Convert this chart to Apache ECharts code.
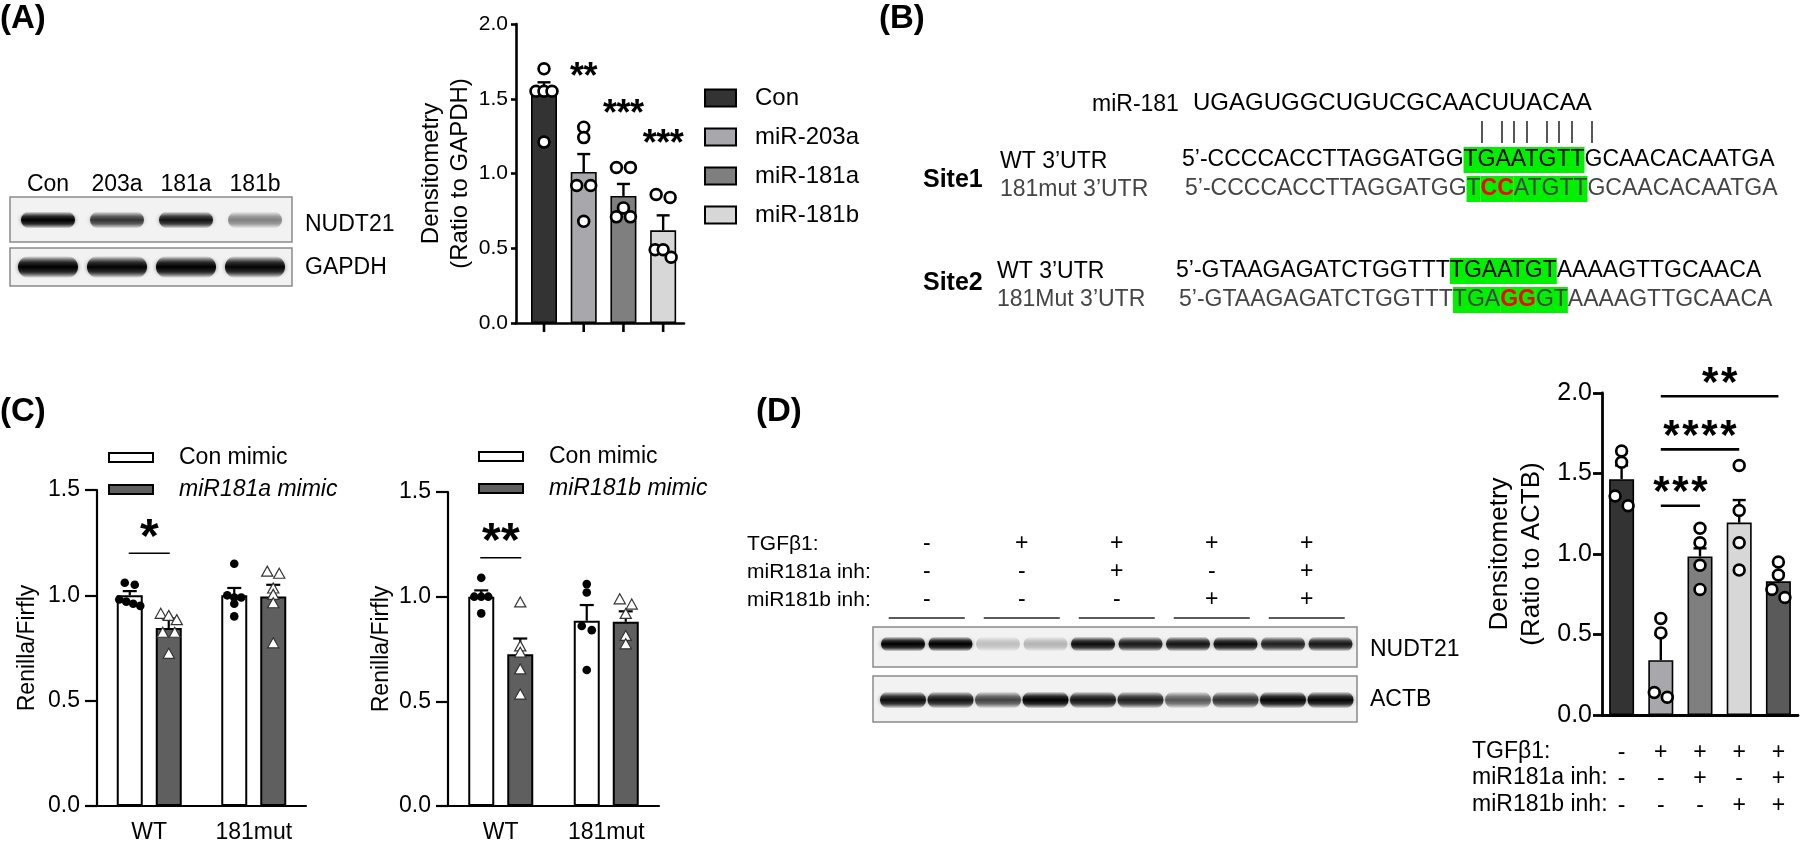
<!DOCTYPE html>
<html><head><meta charset="utf-8">
<script src="https://cdn.jsdelivr.net/npm/echarts@6/dist/echarts.min.js"></script>
<style>html,body{margin:0;padding:0;background:#fff}#c{width:1800px;height:844px}</style>
</head><body><div id="c"></div>
<script>
const FONT = '"Liberation Sans", Arial, Helvetica, sans-serif';

// ---------- Panel A data ----------
const catsA = ['Con', 'miR-203a', 'miR-181a', 'miR-181b'];
const meanA = [1.53, 1.01, 0.85, 0.62];
const semA = [0.08, 0.12, 0.08, 0.10];
const ptsA = [[1.70, 1.55, 1.55, 1.55, 1.21], [1.31, 1.24, 0.92, 0.92, 0.68], [1.04, 1.04, 0.77, 0.71, 0.71], [0.86, 0.84, 0.49, 0.49, 0.44]];
const starIdxA = [1, 2, 3];
const starTxtA = ['**', '***', '***'];
const starValA = [1.69, 1.44, 1.24];
const colorsA = ['#333333', '#a7a7ac', '#7f7f7f', '#d7d7d7'];
const blotLanesA = ['Con', '203a', '181a', '181b'];
const blotA_NUDT21 = [1.0, 0.72, 0.88, 0.42];
const blotA_GAPDH = [1.0, 0.98, 1.0, 0.97];

// ---------- Panel C data ----------
const groupsC = ['WT', '181mut'];
const c1ConMean = [1.00, 1.00], c1ConSem = [0.02, 0.035];
const c1MimMean = [0.845, 0.995], c1MimSem = [0.045, 0.055];
const c1ConPts = [[1.06, 1.05, 0.98, 0.97, 0.96, 0.95], [1.15, 1.00, 0.99, 0.99, 0.96, 0.90]];
const c1MimPts = [[0.91, 0.90, 0.88, 0.82, 0.82, 0.72], [1.11, 1.10, 1.03, 1.00, 0.96, 0.77]];
const c1Sig = {y: 1.20, stars: '*'};
const c2ConMean = [1.00, 0.885], c2ConSem = [0.03, 0.075];
const c2MimMean = [0.725, 0.88], c2MimSem = [0.075, 0.05];
const c2ConPts = [[1.09, 1.00, 1.00, 1.00, 0.92], [1.06, 1.02, 0.86, 0.84, 0.65]];
const c2MimPts = [[0.97, 0.76, 0.73, 0.65, 0.53], [0.985, 0.96, 0.915, 0.81, 0.77]];
const c2Sig = {y: 1.186, stars: '**'};

// ---------- Panel D data ----------
const catsD = ['g1', 'g2', 'g3', 'g4', 'g5'];
const meanD = [1.465, 0.34, 0.985, 1.195, 0.83];
const semD = [0.085, 0.16, 0.05, 0.14, 0.05];
const ptsD = [[1.64, 1.57, 1.36, 1.30], [0.60, 0.51, 0.14, 0.11], [1.16, 1.07, 0.93, 0.78], [1.55, 1.27, 1.07, 0.90], [0.95, 0.87, 0.78, 0.73]];
const colorsD = ['#333333', '#a7a7ac', '#7f7f7f', '#d7d7d7', '#5a5a5a'];
const tgfD = ['-', '+', '+', '+', '+'];
const a181D = ['-', '-', '+', '-', '+'];
const b181D = ['-', '-', '-', '+', '+'];
const sigFromD = [1, 1, 1], sigToD = [2, 3, 4], sigYD = [1.30, 1.65, 1.98], sigStarsD = ['***', '****', '**'];
const blotD_NUDT21 = [1.0, 1.0, 0.2, 0.24, 0.92, 0.85, 0.88, 0.92, 0.82, 0.86];
const blotD_ACTB = [0.92, 0.88, 0.66, 1.0, 0.88, 0.82, 0.58, 0.74, 0.96, 0.96];

// ---------- Panel B text ----------
const mirSeq = 'UGAGUGGCUGUCGCAACUUACAA';
const site1WT = ['5’-CCCCACCTTAGGATGG', 'TGAATGTT', 'GCAACACAATGA'];
const site1Mut = ['5’-CCCCACCTTAGGATGG', 'T', 'CC', 'ATGTT', 'GCAACACAATGA'];
const site2WT = ['5’-GTAAGAGATCTGGTTT', 'TGAATGT', 'AAAAGTTGCAACA'];
const site2Mut = ['5’-GTAAGAGATCTGGTTT', 'TGA', 'GG', 'GT', 'AAAAGTTGCAACA'];

// ---------- helpers ----------
function swarm(ys, th, s2, sn) {
  const idx = ys.map((y, i) => i).sort((a, b) => ys[a] - ys[b]);
  const groups = []; let cur = [idx[0]];
  for (let k = 1; k < idx.length; k++) {
    if (ys[idx[k]] - ys[cur[cur.length - 1]] < th) cur.push(idx[k]); else { groups.push(cur); cur = [idx[k]]; }
  }
  groups.push(cur);
  const offs = [];
  groups.forEach(g => { const n = g.length; const s = n === 2 ? s2 : sn; g.forEach((pi, k) => { offs[pi] = (k - (n - 1) / 2) * s; }); });
  return offs;
}
function sym(kind, x, y) {
  if (kind === 'ring') return {type: 'circle', shape: {cx: x, cy: y, r: 5.4}, style: {fill: '#fff', stroke: '#000', lineWidth: 2.7}};
  if (kind === 'dot') return {type: 'circle', shape: {cx: x, cy: y, r: 4.3}, style: {fill: '#000'}};
  return {type: 'polygon', shape: {points: [[x, y - 6], [x + 5.6, y + 4], [x - 5.6, y + 4]]}, style: {fill: '#fff', stroke: '#333', lineWidth: 1.2}};
}
function errSeries(xi, means, sems, xOff, capW, lw) {
  return {type: 'custom', xAxisIndex: xi, yAxisIndex: xi, z: 3, silent: true, clip: false,
    data: means.map((m, i) => [i, m, sems[i]]), encode: {x: 0, y: 1},
    renderItem: (p, api) => {
      const i = api.value(0), m = api.value(1), s = api.value(2);
      const a = api.coord([i, m]), b = api.coord([i, m + s]); const x = a[0] + xOff;
      return {type: 'group', children: [
        {type: 'line', shape: {x1: x, y1: a[1], x2: x, y2: b[1]}, style: {stroke: '#000', lineWidth: lw}},
        {type: 'line', shape: {x1: x - capW / 2, y1: b[1], x2: x + capW / 2, y2: b[1]}, style: {stroke: '#000', lineWidth: lw}}]};
    }};
}
function ptSeries(xi, pts, xOff, kind, th, s2, sn) {
  return {type: 'custom', xAxisIndex: xi, yAxisIndex: xi, z: 4, silent: true, clip: false,
    data: pts.map((arr, i) => [i, arr[0]]), encode: {x: 0, y: 1},
    renderItem: (p, api) => {
      const i = api.value(0); const vals = pts[p.dataIndex];
      const ys = vals.map(v => api.coord([i, v])[1]); const cx = api.coord([i, 0])[0] + xOff;
      const offs = swarm(ys, th, s2, sn);
      return {type: 'group', children: vals.map((v, k) => sym(kind, cx + offs[k], ys[k]))};
    }};
}
function stars(cx, cy, str, fs, sp) {
  const n = str.length; const out = [];
  for (let k = 0; k < n; k++) out.push({type: 'text', x: cx + (k - (n - 1) / 2) * sp, y: cy + 0.21 * fs,
    style: {text: '*', fill: '#000', font: `bold ${fs}px ${FONT}`, align: 'center', verticalAlign: 'middle', textAlign: 'center', textVerticalAlign: 'middle'}});
  return out;
}
function yAx(grid, max, fs, margin, tlen, lw, name, nameFs, nameLh, nameGap) {
  return {gridIndex: grid, type: 'value', min: 0, max: max, interval: 0.5,
    axisLine: {show: true, onZero: false, lineStyle: {color: '#000', width: lw}},
    axisTick: {show: true, length: tlen, lineStyle: {color: '#000', width: lw}},
    axisLabel: {fontSize: fs, color: '#000', margin: margin, fontFamily: FONT, formatter: v => v.toFixed(1)},
    splitLine: {show: false},
    name: name, nameLocation: 'middle', nameGap: nameGap, nameRotate: 90,
    nameTextStyle: {fontSize: nameFs, lineHeight: nameLh, color: '#000', fontFamily: FONT}};
}

// ---------- graphics (panel labels, blots, sequences) ----------
const gfx = [];
function T(text, x, y, o) {
  o = o || {};
  const st = {text: text, fill: o.fill || '#000', font: `${o.fst || 'normal'} ${o.fw || 'normal'} ${o.fs || 21}px ${FONT}`,
    align: o.align || 'left', textAlign: o.align || 'left', verticalAlign: o.va || 'middle', textVerticalAlign: o.va || 'middle'};
  if (o.rich) { st.rich = o.rich; st.lineHeight = o.lh; }
  gfx.push({type: 'text', x: x, y: y, z: 50, silent: true, style: st});
}
function L(x1, y1, x2, y2, lw, c) {
  gfx.push({type: 'line', z: 50, silent: true, shape: {x1, y1, x2, y2}, style: {stroke: c || '#000', lineWidth: lw}});
}
function bandFill(a) {
  return {type: 'linear', x: 0, y: 0, x2: 0, y2: 1, colorStops: [
    {offset: 0, color: 'rgba(0,0,0,0)'},
    {offset: 0.3, color: `rgba(0,0,0,${(a * 0.75).toFixed(2)})`},
    {offset: 0.5, color: `rgba(0,0,0,${a.toFixed(2)})`},
    {offset: 0.72, color: `rgba(0,0,0,${(a * 0.75).toFixed(2)})`},
    {offset: 1, color: 'rgba(0,0,0,0)'}]};
}
function blot(x, y, w, h, lanes, cy, bw, bh, ints) {
  gfx.push({type: 'rect', z: 40, silent: true, shape: {x, y, width: w, height: h}, style: {fill: '#f2f2f2', stroke: '#8a8a8a', lineWidth: 1.5}});
  lanes.forEach((lx, k) => {
    const a = ints[k];
    gfx.push({type: 'rect', z: 41, silent: true, shape: {x: lx - bw / 2, y: cy - bh / 2, width: bw, height: bh, r: bh / 2},
      style: {fill: bandFill(a), shadowBlur: 4, shadowColor: `rgba(0,0,0,${(a * 0.5).toFixed(2)})`}});
  });
}

// panel labels
T('(A)', 0, 2, {fs: 33, fw: 'bold', va: 'top'});
T('(B)', 879, 2, {fs: 33, fw: 'bold', va: 'top'});
T('(C)', 0, 395, {fs: 33, fw: 'bold', va: 'top'});
T('(D)', 756, 395, {fs: 33, fw: 'bold', va: 'top'});

// Panel A blot
const lanesA = blotLanesA.map((_, k) => 48 + 69 * k);
blotLanesA.forEach((t, k) => T(t, lanesA[k], 185, {fs: 23, align: 'center'}));
blot(10, 197, 282, 45, lanesA, 220, 54, 17, blotA_NUDT21);
blot(10, 248, 282, 38, lanesA, 267, 60, 22, blotA_GAPDH);
T('NUDT21', 305, 225, {fs: 23});
T('GAPDH', 305, 268, {fs: 23});

// Panel B
const seqFs = 23;
function rs(fill, bg, bold) {
  const s = {fill: fill, fontSize: seqFs, fontFamily: FONT, fontWeight: bold ? 'bold' : 'normal', lineHeight: 26, height: 26};
  if (bg) s.backgroundColor = bg;
  return s;
}
const GREEN = '#00f000';
T('miR-181', 1092, 105, {fs: 23});
T(mirSeq, 1193, 103, {fs: 24});
[1482, 1502, 1514, 1527, 1547, 1559, 1572, 1592].forEach(x => L(x, 121, x, 143, 1.4, '#111'));
T('Site1', 923, 180, {fs: 25, fw: 'bold'});
T('Site2', 923, 283, {fs: 25, fw: 'bold'});
T('WT 3’UTR', 1000, 162, {fs: 23});
T('181mut 3’UTR', 1000, 190, {fs: 23, fill: '#444'});
T('WT 3’UTR', 997, 272, {fs: 23});
T('181Mut 3’UTR', 997, 300, {fs: 23, fill: '#444'});
const richB = {n: rs('#000'), g: rs('#000', GREEN), m: rs('#444'), h: rs('#444', GREEN), r: rs('#ff0000', GREEN, true)};
T(`{n|${site1WT[0]}}{g|${site1WT[1]}}{n|${site1WT[2]}}`, 1182, 160, {fs: seqFs, rich: richB, lh: 26});
T(`{m|${site1Mut[0]}}{h|${site1Mut[1]}}{r|${site1Mut[2]}}{h|${site1Mut[3]}}{m|${site1Mut[4]}}`, 1185, 189, {fs: seqFs, rich: richB, lh: 26});
T(`{n|${site2WT[0]}}{g|${site2WT[1]}}{n|${site2WT[2]}}`, 1176, 271, {fs: seqFs, rich: richB, lh: 26});
T(`{m|${site2Mut[0]}}{h|${site2Mut[1]}}{r|${site2Mut[2]}}{h|${site2Mut[3]}}{m|${site2Mut[4]}}`, 1179, 300, {fs: seqFs, rich: richB, lh: 26});

// Panel D blot
const lanesD = blotD_NUDT21.map((_, k) => 903 + 47.5 * k);
const colD = tgfD.map((_, c) => (lanesD[2 * c] + lanesD[2 * c + 1]) / 2);
T('TGFβ1:', 747, 544, {fs: 21});
T('miR181a inh:', 747, 572, {fs: 21});
T('miR181b inh:', 747, 600, {fs: 21});
colD.forEach((cx, c) => {
  T(tgfD[c], cx, 544, {fs: 23, align: 'center'});
  T(a181D[c], cx, 572, {fs: 23, align: 'center'});
  T(b181D[c], cx, 600, {fs: 23, align: 'center'});
  L(cx - 38, 618, cx + 38, 618, 1.6, '#222');
});
blot(873, 627, 484, 40, lanesD, 644, 44, 15, blotD_NUDT21);
blot(873, 676, 484, 46, lanesD, 700, 46, 17, blotD_ACTB);
T('NUDT21', 1370, 650, {fs: 23});
T('ACTB', 1370, 700, {fs: 23});
// D chart row labels
T('TGFβ1:', 1472, 752, {fs: 23});
T('miR181a inh:', 1472, 778, {fs: 23});
T('miR181b inh:', 1472, 805, {fs: 23});

// ---------- series ----------
const series = [];
// A bars
catsA.forEach((c, k) => series.push({type: 'bar', name: c, xAxisIndex: 0, yAxisIndex: 0, barWidth: 26, barGap: '-100%', z: 2,
  data: [[k, meanA[k]]], itemStyle: {color: colorsA[k], borderColor: '#000', borderWidth: 1.6}, silent: true}));
series.push(errSeries(0, meanA, semA, 0, 13, 2.4));
series.push(ptSeries(0, ptsA, 0, 'ring', 8, 14, 8));
series.push({type: 'custom', xAxisIndex: 0, yAxisIndex: 0, z: 5, silent: true, clip: false,
  data: catsA.map((c, i) => [i, 0]), encode: {x: 0, y: 1},
  renderItem: (p, api) => { const c = api.coord([api.value(0), 0]);
    return {type: 'line', shape: {x1: c[0], y1: c[1], x2: c[0], y2: c[1] + 9}, style: {stroke: '#000', lineWidth: 2.6}}; }});
series.push({type: 'custom', xAxisIndex: 0, yAxisIndex: 0, z: 5, silent: true, clip: false,
  data: starIdxA.map((x, k) => [x, starValA[k]]), encode: {x: 0, y: 1},
  renderItem: (p, api) => { const c = api.coord([api.value(0), api.value(1)]);
    return {type: 'group', children: stars(c[0], c[1], starTxtA[p.dataIndex], 36, 13.5)}; }});

// C panels
const OFF = 19.5;
function cPanel(xi, conName, mimName, conMean, conSem, mimMean, mimSem, conPts, mimPts, sig) {
  series.push({type: 'bar', name: conName, xAxisIndex: xi, yAxisIndex: xi, barWidth: 26, barGap: '50%', z: 2, silent: true,
    data: conMean, itemStyle: {color: '#ffffff', borderColor: '#000', borderWidth: 2}});
  series.push({type: 'bar', name: mimName, xAxisIndex: xi, yAxisIndex: xi, barWidth: 26, barGap: '50%', z: 2, silent: true,
    data: mimMean, itemStyle: {color: '#5f5f5f', borderColor: '#000', borderWidth: 2}});
  series.push(errSeries(xi, conMean, conSem, -OFF, 14, 2.2));
  series.push(errSeries(xi, mimMean, mimSem, OFF, 14, 2.2));
  series.push(ptSeries(xi, conPts, -OFF, 'dot', 6, 10, 7));
  series.push(ptSeries(xi, mimPts, OFF, 'tri', 6, 12, 8));
  series.push({type: 'custom', xAxisIndex: xi, yAxisIndex: xi, z: 5, silent: true, clip: false,
    data: [[0, sig.y]], encode: {x: 0, y: 1},
    renderItem: (p, api) => { const c = api.coord([api.value(0), api.value(1)]);
      return {type: 'group', children: [{type: 'line', shape: {x1: c[0] - OFF - 1, y1: c[1], x2: c[0] + OFF + 1, y2: c[1]}, style: {stroke: '#000', lineWidth: 1.6}}]
        .concat(stars(c[0], c[1] - 25, sig.stars, 48, 19))}; }});
}
cPanel(1, 'Con mimic', 'miR181a mimic', c1ConMean, c1ConSem, c1MimMean, c1MimSem, c1ConPts, c1MimPts, c1Sig);
cPanel(2, 'Con mimic ', 'miR181b mimic', c2ConMean, c2ConSem, c2MimMean, c2MimSem, c2ConPts, c2MimPts, c2Sig);

// D
series.push({type: 'bar', name: 'D', xAxisIndex: 3, yAxisIndex: 3, barWidth: 25, z: 2, silent: true,
  data: meanD.map((v, i) => ({value: v, itemStyle: {color: colorsD[i]}})), itemStyle: {borderColor: '#000', borderWidth: 1.6}});
series.push(errSeries(3, meanD, semD, 0, 13, 2.4));
series.push(ptSeries(3, ptsD, 0, 'ring', 10, 13, 8));
series.push({type: 'custom', xAxisIndex: 3, yAxisIndex: 3, z: 5, silent: true, clip: false,
  data: sigFromD.map((f, k) => [f, sigToD[k], sigYD[k]]), encode: {x: [0, 1], y: 2},
  renderItem: (p, api) => {
    const a = api.coord([api.value(0), api.value(2)]), b = api.coord([api.value(1), api.value(2)]);
    return {type: 'group', children: [{type: 'line', shape: {x1: a[0], y1: a[1], x2: b[0], y2: b[1]}, style: {stroke: '#000', lineWidth: 2.6}}]
      .concat(stars((a[0] + b[0]) / 2, a[1] - 21, sigStarsD[p.dataIndex], 42, 19))};
  }});

const catAxis = (gi, data, extra) => Object.assign({gridIndex: gi, type: 'category', data: data,
  axisLine: {lineStyle: {color: '#000', width: 2.2}},
  axisTick: {alignWithLabel: true, length: 9, lineStyle: {color: '#000', width: 2.2}},
  axisLabel: {fontSize: 23, color: '#000', margin: 15, interval: 0, fontFamily: FONT}, splitLine: {show: false}}, extra || {});

const option = {
  animation: false,
  textStyle: {fontFamily: FONT},
  grid: [
    {left: 516, top: 24, width: 168, height: 299},
    {left: 97, top: 490, width: 209, height: 316},
    {left: 448, top: 492, width: 211, height: 315},
    {left: 1602, top: 393, width: 196, height: 322}
  ],
  xAxis: [
    {gridIndex: 0, type: 'value', min: -0.705, max: 3.525, axisLine: {show: true, onZero: false, lineStyle: {color: '#000', width: 2.6}},
      axisTick: {show: false}, axisLabel: {show: false}, splitLine: {show: false}},
    catAxis(1, groupsC),
    catAxis(2, groupsC),
    catAxis(3, catsD, {axisLine: {lineStyle: {color: '#000', width: 2.8}},
      axisTick: {alignWithLabel: true, length: 10, lineStyle: {color: '#000', width: 2.8}},
      axisLabel: {fontSize: 23, color: '#000', margin: 24, lineHeight: 26.5, interval: 0, fontFamily: FONT,
        formatter: (v, i) => [tgfD[i], a181D[i], b181D[i]].join('\n')}})
  ],
  yAxis: [
    yAx(0, 2, 21, 8, 5, 2.6, 'Densitometry\n(Ratio to GAPDH)', 24, 29, 40),
    yAx(1, 1.5, 23, 17, 12, 2.2, 'Renilla/Firfly', 23, 26, 56),
    yAx(2, 1.5, 23, 17, 12, 2.2, 'Renilla/Firfly', 23, 26, 52),
    yAx(3, 2, 25, 10, 9, 2.8, 'Densitometry\n(Ratio to ACTB)', 26, 32, 54)
  ],
  legend: [
    {left: 704, top: 86, padding: 0, orient: 'vertical', icon: 'rect', itemWidth: 31, itemHeight: 17, itemGap: 15, selectedMode: false,
      data: catsA, itemStyle: {borderColor: '#000', borderWidth: 2},
      textStyle: {fontSize: 24, color: '#000', fontFamily: FONT, padding: [0, 0, 0, 14]}},
    {left: 108, top: 446, padding: 0, orient: 'vertical', icon: 'rect', itemWidth: 44, itemHeight: 9, itemGap: 9, selectedMode: false,
      data: [{name: 'Con mimic'}, {name: 'miR181a mimic', textStyle: {fontStyle: 'italic'}}], itemStyle: {borderColor: '#000', borderWidth: 2},
      textStyle: {fontSize: 23, color: '#000', fontFamily: FONT, padding: [0, 0, 0, 21]}},
    {left: 478, top: 445, padding: 0, orient: 'vertical', icon: 'rect', itemWidth: 44, itemHeight: 9, itemGap: 9, selectedMode: false,
      data: [{name: 'Con mimic'}, {name: 'miR181b mimic', textStyle: {fontStyle: 'italic'}}], itemStyle: {borderColor: '#000', borderWidth: 2},
      textStyle: {fontSize: 23, color: '#000', fontFamily: FONT, padding: [0, 0, 0, 21]}}
  ],
  graphic: {elements: gfx},
  series: series
};
const chart = echarts.init(document.getElementById('c'), null, {renderer: 'canvas'});
chart.setOption(option);
</script>
</body></html>
